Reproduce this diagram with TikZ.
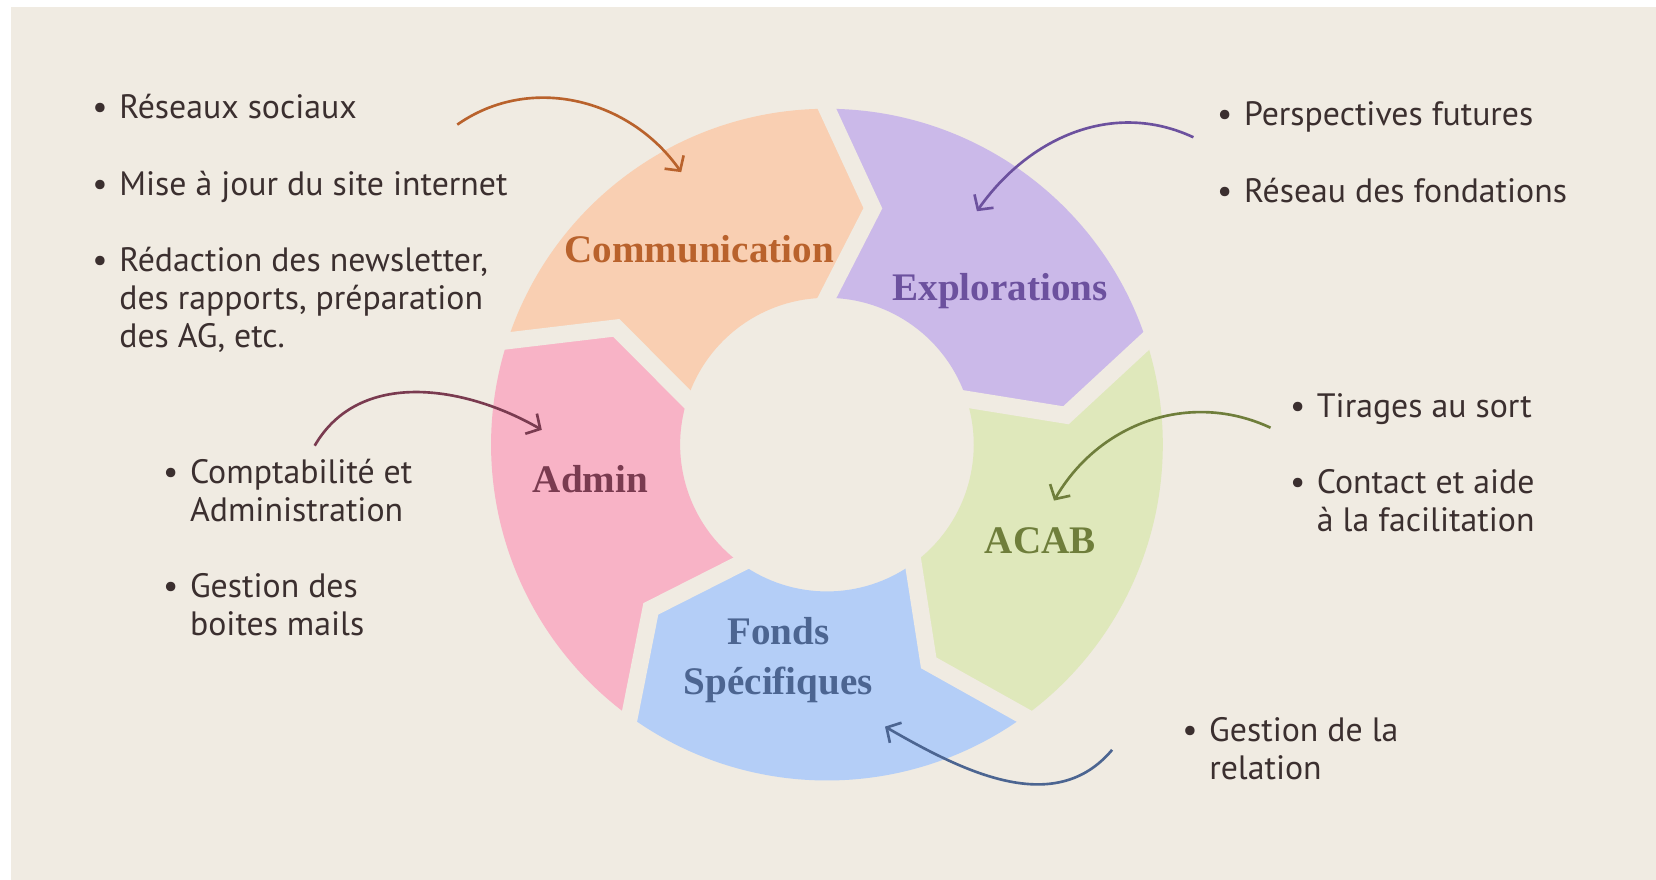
\documentclass[tikz,border=0pt]{standalone}
\usepackage{fontspec}
\setmainfont{PT Sans}
\newfontfamily\labelfont{Liberation Serif}
\usetikzlibrary{arrows.meta}
\definecolor{bg}{HTML}{F0EBE2}
\definecolor{ink}{HTML}{3B2F2F}
\definecolor{commfill}{HTML}{F9CFB2}
\definecolor{explfill}{HTML}{CBB9E9}
\definecolor{acabfill}{HTML}{DFE8BB}
\definecolor{fondsfill}{HTML}{B4CEF7}
\definecolor{adminfill}{HTML}{F8B3C6}
\definecolor{commtxt}{HTML}{B9622C}
\definecolor{expltxt}{HTML}{6C519E}
\definecolor{acabtxt}{HTML}{6F7E3B}
\definecolor{fondstxt}{HTML}{4C6591}
\definecolor{admintxt}{HTML}{7A3B50}
\newcommand{\bul}[1]{\begin{tabular}[t]{@{}l@{\hspace{11pt}}l@{}}\textbullet & #1\end{tabular}}
\begin{document}
\begin{tikzpicture}[x=1pt,y=1pt,
  >={Straight Barb[length=10pt,width=22pt]},
  gap/.style={draw=bg,line width=16pt,line cap=rect},
  lbl/.style={font=\labelfont\bfseries\fontsize{37}{47}\selectfont,align=center},
  item/.style={anchor=base west,text=ink,font=\fontsize{32}{36}\selectfont},
  pen/.style={->,line width=2.5pt}]
\useasboundingbox (-783,-412) rectangle (785,421);
\fill[white] (-783,-412) rectangle (785,421);
\fill[bg] (-773,-412) rectangle (785,414);
\fill[commfill] (162:318) arc[start angle=162,end angle=90,radius=318] -- (79:228) -- (90:139) arc[start angle=90,end angle=162,radius=139] -- (151:228) -- cycle;
\fill[explfill] (90:318) arc[start angle=90,end angle=18,radius=318] -- (7:228) -- (18:139) arc[start angle=18,end angle=90,radius=139] -- (79:228) -- cycle;
\fill[acabfill] (18:318) arc[start angle=18,end angle=-54,radius=318] -- (-65:228) -- (-54:139) arc[start angle=-54,end angle=18,radius=139] -- (7:228) -- cycle;
\fill[fondsfill] (-54:318) arc[start angle=-54,end angle=-126,radius=318] -- (-137:228) -- (-126:139) arc[start angle=-126,end angle=-54,radius=139] -- (-65:228) -- cycle;
\fill[adminfill] (-126:318) arc[start angle=-126,end angle=-198,radius=318] -- (151:228) -- (162:139) arc[start angle=162,end angle=234,radius=139] -- (-137:228) -- cycle;
\draw[gap] (162:318) -- (151:228) -- (162:139);
\draw[gap] (90:318) -- (79:228) -- (90:139);
\draw[gap] (18:318) -- (7:228) -- (18:139);
\draw[gap] (-54:318) -- (-65:228) -- (-54:139);
\draw[gap] (-126:318) -- (-137:228) -- (-126:139);
\node[lbl,text=commtxt] (comm) at (-121,185) {Communication};
\node[lbl,text=expltxt] (expl) at (164,145) {Explorations};
\node[lbl,text=admintxt] (admin) at (-224,-33) {Admin};
\node[lbl,text=acabtxt] (acab) at (202,-91) {ACAB};
\node[lbl,text=fondstxt] (fonds) at (-46,-204) {Fonds\\Spécifiques};
\node[item] (reseaux) at (-699,309) {\bul{Réseaux sociaux}};
\node[item] (site) at (-699,236) {\bul{Mise à jour du site internet}};
\node[item] (redac) at (-699,164) {\bul{Rédaction des newsletter,\\ & des rapports, préparation\\ & des AG, etc.}};
\node[item] (compta) at (-632,-37) {\bul{Comptabilité et\\ & Administration}};
\node[item] (mails) at (-632,-145) {\bul{Gestion des\\ & boites mails}};
\node[item] (persp) at (366,302) {\bul{Perspectives futures}};
\node[item] (fondations) at (366,229) {\bul{Réseau des fondations}};
\node[item] (tirages) at (435,26) {\bul{Tirages au sort}};
\node[item] (contact) at (435,-46) {\bul{Contact et aide\\ & à la facilitation}};
\node[item] (relation) at (333,-281) {\bul{Gestion de la\\ & relation}};
\coordinate (commfrom) at (-350,303);
\coordinate (commto) at (-138,258);
\coordinate (explfrom) at (347,291);
\coordinate (explto) at (142,221);
\coordinate (adminfrom) at (-485,-1);
\coordinate (adminto) at (-270,14);
\coordinate (acabfrom) at (420,16);
\coordinate (acabto) at (215,-53);
\coordinate (fondsfrom) at (270,-289);
\coordinate (fondsto) at (55,-267);
\draw[pen,draw=commtxt] (commfrom) to[out=35,in=125] (commto);
\draw[pen,draw=expltxt] (explfrom) to[out=155,in=55] (explto);
\draw[pen,draw=admintxt] (adminfrom) to[out=60,in=150] (adminto);
\draw[pen,draw=acabtxt] (acabfrom) to[out=155,in=60] (acabto);
\draw[pen,draw=fondstxt] (fondsfrom) to[out=-130,in=-30] (fondsto);
\end{tikzpicture}
\end{document}
